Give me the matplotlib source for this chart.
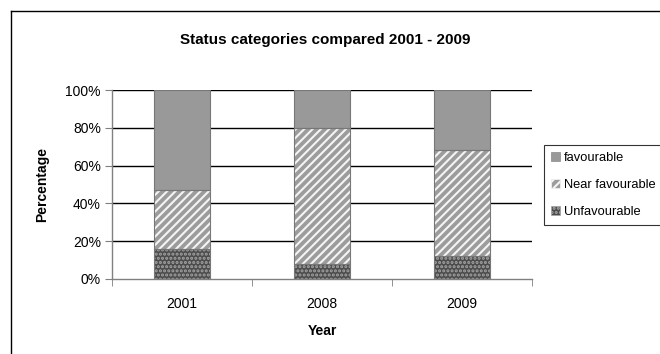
import matplotlib
matplotlib.use("Agg")
import matplotlib.pyplot as plt
from matplotlib.lines import Line2D
from matplotlib.patches import Patch
import numpy as np

plt.rcParams['font.family'] = ['Liberation Sans', 'DejaVu Sans']
plt.rcParams['hatch.linewidth'] = 1.5

# Share of sites per status category (%)
years = ['2001', '2008', '2009']
unfavourable = [16, 8, 12]
near_favourable = [31, 72, 56]
favourable = [53, 20, 32]
y_ticks = [0, 20, 40, 60, 80, 100]
y_tick_labels = ['0%', '20%', '40%', '60%', '80%', '100%']

fig = plt.figure(figsize=(6.6, 3.54), dpi=100)
W, H = 660, 354
ax = fig.add_axes([112 / W, 1 - 279 / H, 420 / W, 189 / H])

x = np.arange(len(years))
width = 0.4
unf = np.array(unfavourable, float)
near = np.array(near_favourable, float)
fav = np.array(favourable, float)

UNF_FACE, UNF_DOTS = '#4c4c4c', '#a4a4a4'
NEAR_FACE, NEAR_STRIPE = '#9c9c9c', '#f4f4f4'
FAV_FACE = '#999999'

# series styles: (values, bottom, face, hatch, hatch colour)
series = [
    (unf, np.zeros_like(unf), UNF_FACE, '....', UNF_DOTS),
    (near, unf, NEAR_FACE, '////', NEAR_STRIPE),
    (fav, unf + near, FAV_FACE, None, None),
]

# gridlines behind the bars
for t in y_ticks[1:]:
    ax.axhline(t, color='black', lw=1.0, zorder=0)

for vals, bottom, face, hatch, hcol in series:
    if hatch:
        ax.bar(x, vals, width, bottom=bottom, color=face, edgecolor=hcol,
               hatch=hatch, linewidth=0, zorder=2)
    else:
        ax.bar(x, vals, width, bottom=bottom, color=face, linewidth=0, zorder=2)
    ax.bar(x, vals, width, bottom=bottom, fill=False, edgecolor='#777777',
           linewidth=0.8, zorder=3)

ax.set_xlim(-0.5, len(years) - 0.5)
ax.set_ylim(0, 100)
ax.set_yticks(y_ticks)
ax.set_yticklabels(y_tick_labels, fontsize=10)
ax.set_xticks(x)
ax.set_xticklabels(years, fontsize=10)
# category separators on the x axis
ax.set_xticks(np.arange(len(years) + 1) - 0.5, minor=True)
ax.tick_params(axis='x', which='major', length=0, pad=13)
ax.tick_params(axis='x', which='minor', length=5, color='#808080', direction='out')
ax.tick_params(axis='y', length=5, color='#808080', direction='out', pad=3)

for side in ['top', 'right']:
    ax.spines[side].set_visible(False)
for side in ['left', 'bottom']:
    ax.spines[side].set_color('#808080')
    ax.spines[side].set_linewidth(1.0)

ax.set_ylabel('Percentage', fontsize=10, fontweight='bold', labelpad=12)
ax.set_xlabel('Year', fontsize=10, fontweight='bold', labelpad=9)
fig.text(325 / W, 1 - 40 / H, 'Status categories compared 2001 - 2009',
         ha='center', va='center', fontsize=11, fontweight='bold')

handles = [
    Patch(facecolor=FAV_FACE, edgecolor='#888888', linewidth=0.5, label='favourable'),
    Patch(facecolor=NEAR_FACE, edgecolor=NEAR_STRIPE, hatch='////', linewidth=0.5,
          label='Near favourable'),
    Patch(facecolor=UNF_FACE, edgecolor=UNF_DOTS, hatch='....', linewidth=0.5,
          label='Unfavourable'),
]
leg = fig.legend(handles=handles, loc='upper left',
                 bbox_to_anchor=(544 / W, 1 - 145 / H), borderaxespad=0,
                 fontsize=9.3, frameon=True, fancybox=False, edgecolor='black',
                 handlelength=0.7, handleheight=0.7, handletextpad=0.3,
                 labelspacing=1.15, borderpad=0.55)
leg.get_frame().set_linewidth(0.8)

# outer chart border
fig.add_artist(Line2D([11 / W, 11 / W], [0, 1 - 11 / H], color='black', lw=1.0))
fig.add_artist(Line2D([11 / W, 1], [1 - 11 / H, 1 - 11 / H], color='black', lw=1.0))

fig.savefig('out.png', dpi=100)
